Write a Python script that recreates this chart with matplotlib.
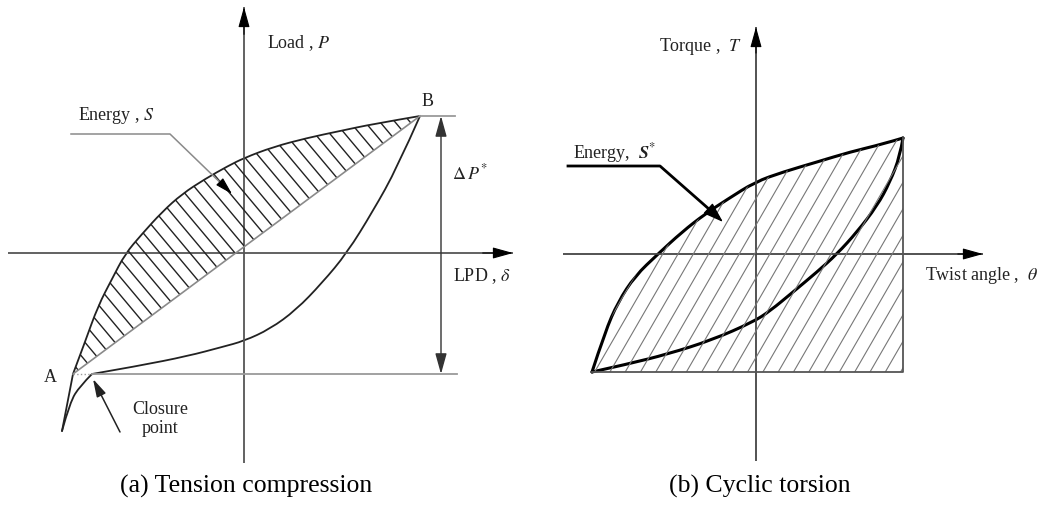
import numpy as np
import matplotlib.pyplot as plt
from matplotlib.patches import Polygon, PathPatch
from matplotlib.path import Path

plt.rcParams['font.family'] = ['Liberation Serif', 'DejaVu Serif']
plt.rcParams['mathtext.fontset'] = 'stix'

# (a) tension-compression loop: LPD (delta) vs load P
load_x = [-182, -171, -159, -146, -132, -119, -102, -82, -62, -39, -16, 0, 29, 63, 96, 129, 176]
load_y = [-178, -121, -89, -53, -26, -1, 19, 41, 59, 74, 87, 95, 106, 115, 122, 129, 137]
unload_x = [-182, -174, -164, -152, -106, -56, -22, 0, 26, 52, 78, 103, 129, 153, 176]
unload_y = [-178, -149, -133, -121, -113, -103, -94, -88, -76, -57, -30, 0, 42, 85, 137]
pt_A = (-171, -121)
pt_B = (176, 137)
closure = (-152, -121)

# (b) cyclic torsion loop: twist angle (theta) vs torque T
tq_up_x = [-164, -151, -138, -121, -98, -74, -51, -28, -1, 27, 61, 94, 127, 147]
tq_up_y = [-118, -78, -48, -22, 0, 22, 40, 55, 72, 82, 92, 102, 110, 116]
tq_lo_x = [-164, -128, -88, -44, -3, 14, 37, 61, 81, 101, 121, 134, 144, 147]
tq_lo_y = [-118, -110, -100, -86, -68, -57, -38, -18, 0, 22, 48, 72, 98, 116]


def curve(ax, xs, ys, **kw):
    # quadratic spline through the midpoints of the read points
    p = np.column_stack([xs, ys]).astype(float)
    verts, codes = [p[0]], [Path.MOVETO]
    for i in range(1, len(p) - 1):
        end = p[i + 1] if i == len(p) - 2 else (p[i] + p[i + 1]) / 2
        verts += [p[i], end]
        codes += [Path.CURVE3, Path.CURVE3]
    if len(p) == 2:
        verts.append(p[1])
        codes.append(Path.LINETO)
    ax.add_patch(PathPatch(Path(verts, codes), fill=False, capstyle='round', joinstyle='round', **kw))


def hatch(ax, xs, ys, angle, step, **kw):
    poly = Polygon(np.column_stack([xs, ys]), closed=True, fill=False, edgecolor='none')
    ax.add_patch(poly)
    x0, x1 = min(xs), max(xs)
    y0, y1 = min(ys), max(ys)
    dx = (y1 - y0) / np.tan(np.radians(angle))
    for c in np.arange(x0 - abs(dx), x1 + abs(dx), step):
        ln, = ax.plot([c, c + dx], [y0, y1], **kw)
        ln.set_clip_path(poly)


def arrow_axis(ax, start, tip, color, lw):
    ax.plot([start[0], tip[0]], [start[1], tip[1]], color=color, lw=lw, solid_capstyle='butt')
    ax.annotate('', xy=tip, xytext=(tip[0] - 0.06 * (tip[0] - start[0]), tip[1] - 0.06 * (tip[1] - start[1])),
                arrowprops=dict(arrowstyle='-|>,head_length=0.9,head_width=0.25', color='black',
                                lw=0.8, shrinkA=0, shrinkB=0, mutation_scale=14))


fig = plt.figure(figsize=(10.43, 5.06), dpi=100)
axL = fig.add_axes([0, 0, 521 / 1043, 1])
axL.set_xlim(-244, 277)
axL.set_ylim(-252, 254)
axR = fig.add_axes([521 / 1043, 0, 522 / 1043, 1])
axR.set_xlim(-235, 287)
axR.set_ylim(-251, 255)
for ax in (axL, axR):
    ax.axis('off')

# ---- (a) ----
arrow_axis(axL, (0, -210), (0, 246), '#555555', 1.3)
arrow_axis(axL, (-236, 0), (269, 0), '#555555', 1.3)

hatch(axL, load_x[1:], load_y[1:], -50, 15, color='#222222', lw=1.0)
axL.plot([pt_A[0], pt_B[0]], [pt_A[1], pt_B[1]], color='#8a8a8a', lw=1.2)
curve(axL, load_x[:2], load_y[:2], edgecolor='#222222', lw=1.3)
curve(axL, load_x[1:], load_y[1:], edgecolor='#222222', lw=1.3)
curve(axL, unload_x[:4], unload_y[:4], edgecolor='#222222', lw=1.3)
curve(axL, unload_x[3:], unload_y[3:], edgecolor='#222222', lw=1.3)

# reference levels and the load range
axL.plot([pt_B[0], 211], [pt_B[1], pt_B[1]], color='#9a9a9a', lw=1.3)
axL.plot([closure[0], 213], [closure[1], closure[1]], color='#9a9a9a', lw=1.3)
axL.plot([pt_A[0], closure[0]], [pt_A[1], closure[1]], color='#9a9a9a', lw=1.0, ls=':')
axL.annotate('', xy=(197, pt_B[1]), xytext=(197, pt_A[1]),
             arrowprops=dict(arrowstyle='<|-|>,head_length=0.9,head_width=0.25', color='#333333',
                             lw=1.0, shrinkA=0, shrinkB=0, mutation_scale=14))

fs = 13
axL.text(23, 211, 'Load , $P$', fontsize=fs, va='center', ha='left', color='#222222')
axL.text(184, 153, 'B', fontsize=fs, va='center', ha='center', color='#222222')
axL.text(-194, -123, 'A', fontsize=fs, va='center', ha='center', color='#222222')
axL.text(208, 81, r'$\Delta\,P^{*}$', fontsize=fs, va='center', ha='left', color='#222222')
axL.text(209, -22, r'LPD , $\delta$', fontsize=fs, va='center', ha='left', color='#222222')
axL.text(-166, 139, 'Energy , $S$', fontsize=fs, va='center', ha='left', color='#222222')
axL.plot([-173, -74, -14], [119, 119, 61], color='#8a8a8a', lw=1.1)
axL.annotate('', xy=(-12, 59), xytext=(-20, 67),
             arrowprops=dict(arrowstyle='-|>,head_length=0.9,head_width=0.25', color='black',
                             lw=0.8, shrinkA=0, shrinkB=0, mutation_scale=12))
axL.text(-84, -165, 'Closure\npoint', fontsize=fs, va='center', ha='center',
         linespacing=1.1, color='#222222')
axL.annotate('', xy=(-151, -126), xytext=(-124, -179),
             arrowprops=dict(arrowstyle='-|>,head_length=0.9,head_width=0.25', color='#222222',
                             lw=1.1, shrinkA=0, shrinkB=0, mutation_scale=12))

# ---- (b) ----
arrow_axis(axR, (0, -207), (0, 227), '#444444', 1.3)
arrow_axis(axR, (-193, 0), (227, 0), '#444444', 1.3)

hatch(axR, tq_up_x + [tq_up_x[-1]], tq_up_y + [tq_lo_y[0]], 60, 15.3, color='#777777', lw=0.8)
axR.plot([tq_up_x[-1], tq_up_x[-1], tq_up_x[0]], [tq_up_y[-1], tq_lo_y[0], tq_lo_y[0]],
         color='#555555', lw=1.3)
curve(axR, tq_up_x, tq_up_y, edgecolor='black', lw=2.2)
curve(axR, tq_lo_x, tq_lo_y, edgecolor='black', lw=2.2)

axR.text(-14, 209, 'Torque ,  $T$', fontsize=fs, va='center', ha='right', color='#222222')
axR.text(169, -21, r'Twist angle ,  $\theta$', fontsize=fs, va='center', ha='left', color='#222222')
axR.text(-183, 102, r'Energy,  $\boldsymbol{S}^{*}$', fontsize=fs, va='center', ha='left',
         color='#222222')
axR.plot([-188, -96, -38], [88, 88, 37], color='black', lw=2.0)
axR.annotate('', xy=(-33, 32), xytext=(-45, 43),
             arrowprops=dict(arrowstyle='-|>,head_length=0.9,head_width=0.3', color='black',
                             lw=1.0, shrinkA=0, shrinkB=0, mutation_scale=14))

fig.text(246 / 1043, 1 - 486 / 506, '(a) Tension compression', fontsize=18.5, ha='center', va='center')
fig.text(760 / 1043, 1 - 486 / 506, '(b) Cyclic torsion', fontsize=18.5, ha='center', va='center')

fig.savefig('out.png', dpi=100)
